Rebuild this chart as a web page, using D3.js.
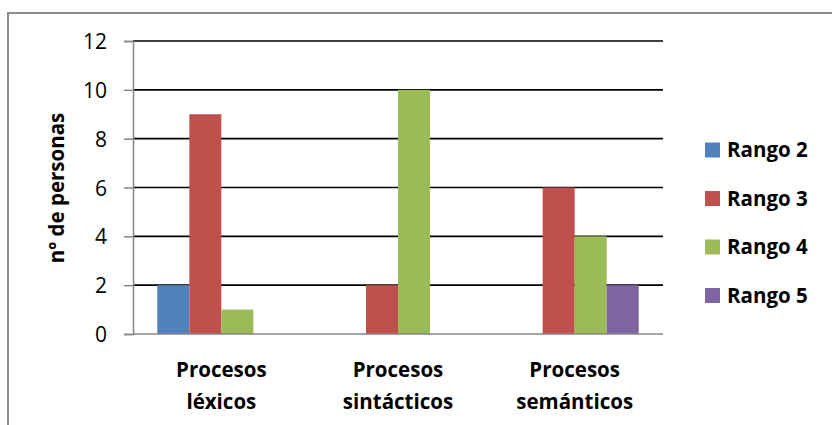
<html>
<head>
<meta charset="utf-8">
<style>
body { margin: 0; background: #fff; }
svg text { font-family: "Open Sans", Lato, sans-serif; fill: #000; }
.tick text { font-size: 21px; }
.cat { font-size: 20.5px; font-weight: bold; }
.legend text { font-size: 20.5px; font-weight: bold; }
</style>
</head>
<body>
<div id="chart"></div>
<script src="https://d3js.org/d3.v7.min.js"></script>
<script>
var categories = [["Procesos", "léxicos"], ["Procesos", "sintácticos"], ["Procesos", "semánticos"]];
var seriesNames = ["Rango 2", "Rango 3", "Rango 4", "Rango 5"];
var colors = ["#4f81bd", "#c0504d", "#9bbb59", "#8064a2"];
var rango2 = [2, 0, 0];
var rango3 = [9, 2, 6];
var rango4 = [1, 10, 4];
var rango5 = [0, 0, 2];
var yTicks = [0, 2, 4, 6, 8, 10, 12];
var yTitle = "nº de personas";

var allSeries = [rango2, rango3, rango4, rango5];

var W = 832, H = 425;
var plotLeft = 133, plotRight = 663, plotTop = 41, plotBottom = 334;

var svg = d3.select("#chart").append("svg")
    .attr("width", W)
    .attr("height", H);

// chart border (cropped on right/bottom)
svg.append("path")
    .attr("d", "M8," + H + "V13H" + W)
    .attr("fill", "none")
    .attr("stroke", "#8c8c8c")
    .attr("stroke-width", 2);

var x0 = d3.scaleBand()
    .domain(d3.range(categories.length))
    .range([plotLeft, plotRight]);
var x1 = d3.scaleBand()
    .domain(seriesNames)
    .range([24.3, x0.bandwidth() - 24.3]);
var y = d3.scaleLinear().domain([0, 12]).range([plotBottom, plotTop]);

// gridlines
svg.append("g")
  .selectAll("line")
  .data(yTicks.filter(function(d) { return d > 0; }))
  .enter().append("line")
    .attr("x1", plotLeft).attr("x2", plotRight)
    .attr("y1", function(d) { return y(d); })
    .attr("y2", function(d) { return y(d); })
    .attr("stroke", "#000")
    .attr("stroke-width", 1.6);

// bars
var data = [];
categories.forEach(function(c, i) {
  seriesNames.forEach(function(s, j) {
    data.push({cat: i, name: s, value: allSeries[j][i], color: colors[j]});
  });
});

svg.append("g")
  .selectAll("rect")
  .data(data.filter(function(d) { return d.value > 0; }))
  .enter().append("rect")
    .attr("x", function(d) { return x0(d.cat) + x1(d.name); })
    .attr("width", x1.bandwidth())
    .attr("y", function(d) { return y(d.value); })
    .attr("height", function(d) { return plotBottom - y(d.value); })
    .attr("fill", function(d) { return d.color; });

// y axis
var yAxis = svg.append("g")
    .attr("transform", "translate(" + plotLeft + ",0)")
    .call(d3.axisLeft(y).tickValues(yTicks).tickSize(9).tickPadding(17));
yAxis.select(".domain").attr("stroke", "#868686").attr("stroke-width", 1.5);
yAxis.selectAll(".tick line").attr("stroke", "#868686").attr("stroke-width", 1.5);
yAxis.selectAll(".tick text").attr("dy", "0.36em");

// x axis baseline
svg.append("line")
    .attr("x1", plotLeft).attr("x2", plotRight)
    .attr("y1", plotBottom).attr("y2", plotBottom)
    .attr("stroke", "#868686")
    .attr("stroke-width", 1.5);

// category labels
var cats = svg.append("g")
  .selectAll("text")
  .data(categories)
  .enter().append("text")
    .attr("class", "cat")
    .attr("text-anchor", "middle");
cats.append("tspan")
    .attr("x", function(d, i) { return x0(i) + x0.bandwidth() / 2; })
    .attr("y", 377)
    .text(function(d) { return d[0]; });
cats.append("tspan")
    .attr("x", function(d, i) { return x0(i) + x0.bandwidth() / 2; })
    .attr("y", 409)
    .text(function(d) { return d[1]; });

// y title
svg.append("text")
    .attr("transform", "translate(64,188) rotate(-90)")
    .attr("text-anchor", "middle")
    .style("font-size", "20.5px")
    .style("font-weight", "bold")
    .text(yTitle);

// legend
var legend = svg.selectAll(".legend")
    .data(seriesNames)
    .enter().append("g")
    .attr("class", "legend")
    .attr("transform", function(d, i) { return "translate(705," + (150 + i * 48.5) + ")"; });
legend.append("rect")
    .attr("y", -7.5)
    .attr("width", 15)
    .attr("height", 15)
    .attr("fill", function(d, i) { return colors[i]; });
legend.append("text")
    .attr("x", 22)
    .attr("dy", "0.36em")
    .text(function(d) { return d; });
</script>
</body>
</html>
